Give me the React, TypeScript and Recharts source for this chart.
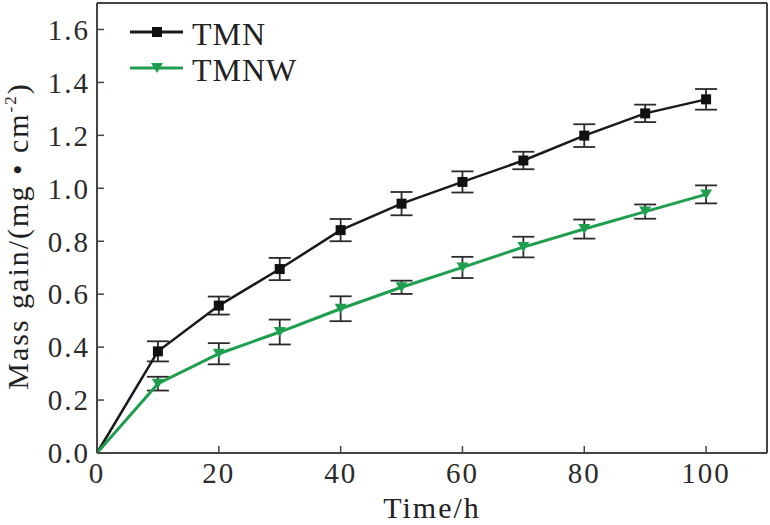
import React from "react";
import {
  LineChart,
  Line,
  XAxis,
  YAxis,
  ErrorBar,
  Legend,
} from "recharts";

const SERIF = "'Liberation Serif', 'Times New Roman', serif";
const INK = "#2b2b2b";
const GREEN = "#1f9e4f";

// Time (h) and mass gain (mg/cm^2)
const TIME = [0, 10, 20, 30, 40, 50, 60, 70, 80, 90, 100];
const TMN = [0, 0.384, 0.557, 0.695, 0.842, 0.942, 1.024, 1.105, 1.199, 1.283, 1.336];
const TMN_ERR = [null, 0.038, 0.034, 0.042, 0.042, 0.044, 0.04, 0.033, 0.043, 0.033, 0.039];
const TMNW = [0, 0.262, 0.375, 0.457, 0.545, 0.626, 0.701, 0.778, 0.846, 0.912, 0.977];
const TMNW_ERR = [null, 0.026, 0.04, 0.047, 0.047, 0.025, 0.04, 0.039, 0.036, 0.027, 0.034];

const X_TICKS = [0, 20, 40, 60, 80, 100];
const Y_TICKS = [0, 0.2, 0.4, 0.6, 0.8, 1.0, 1.2, 1.4, 1.6];

const data = TIME.map((t, i) => ({
  time: t,
  tmn: TMN[i],
  tmnErr: TMN_ERR[i],
  tmnw: TMNW[i],
  tmnwErr: TMNW_ERR[i],
}));

const tickStyle = { fontSize: 29, fill: INK, fontFamily: SERIF, letterSpacing: 2 };

function SquareDot(props: any) {
  const { cx, cy, payload, index } = props;
  if (payload.time === 0 || cx == null) return <g key={`s${index}`} />;
  return <rect key={`s${index}`} x={cx - 5} y={cy - 5} width={10} height={10} fill="#111" />;
}

function TriangleDot(props: any) {
  const { cx, cy, payload, index } = props;
  if (payload.time === 0 || cx == null) return <g key={`t${index}`} />;
  return (
    <path
      key={`t${index}`}
      d={`M${cx - 6},${cy - 5} L${cx + 6},${cy - 5} L${cx},${cy + 5} Z`}
      fill={GREEN}
    />
  );
}

function LegendMarker({ name, color }: { name: string; color: string }) {
  return (
    <svg width={56} height={20}>
      <line x1={2} y1={10} x2={55} y2={10} stroke={color} strokeWidth={3} />
      {name === "TMN" ? (
        <rect x={24} y={5} width={10} height={10} fill="#111" />
      ) : (
        <path d="M23,5 L35,5 L29,15 Z" fill={color} />
      )}
    </svg>
  );
}

function LegendContent(props: any) {
  const items = props.payload || [];
  return (
    <div style={{ fontFamily: SERIF, fontSize: 32, color: "#222", letterSpacing: 1 }}>
      {items.map((it: any) => (
        <div key={it.value} style={{ display: "flex", alignItems: "center", height: 36 }}>
          <LegendMarker name={it.value} color={it.color} />
          <span style={{ marginLeft: 8, lineHeight: "36px", position: "relative", top: 2 }}>
            {it.value}
          </span>
        </div>
      ))}
    </div>
  );
}

function YTitle() {
  return (
    <text
      x={28}
      y={236}
      transform="rotate(-90 28 236)"
      textAnchor="middle"
      fontFamily={SERIF}
      fontSize={30}
      letterSpacing={2}
      fill="#222"
    >
      Mass gain/(mg • cm
      <tspan fontSize={17} dy={-12}>-2</tspan>
      <tspan dy={12}>)</tspan>
    </text>
  );
}

export default function App() {
  return (
    <div style={{ width: 770, height: 525 }}>
      <style>{`body{margin:0}`}</style>
      <LineChart
        width={770}
        height={525}
        data={data}
        margin={{ top: 0, right: 0, bottom: 0, left: 0 }}
      >
        <XAxis
          dataKey="time"
          type="number"
          domain={[0, 110]}
          ticks={X_TICKS}
          height={72}
          axisLine={{ stroke: "#444", strokeWidth: 2 }}
          tickLine={{ stroke: "#444", strokeWidth: 1.5 }}
          tickSize={-7}
          tickMargin={16}
          tick={tickStyle}
          label={{
            value: "Time/h",
            position: "insideBottom",
            offset: 7,
            style: { fontSize: 30, fill: "#222", fontFamily: SERIF, letterSpacing: 2 },
          }}
        />
        <XAxis
          xAxisId="top"
          orientation="top"
          type="number"
          domain={[0, 110]}
          height={3}
          tick={false}
          tickLine={false}
          axisLine={{ stroke: "#444", strokeWidth: 2 }}
        />
        <YAxis
          type="number"
          domain={[0, 1.7]}
          ticks={Y_TICKS}
          width={97}
          axisLine={{ stroke: "#444", strokeWidth: 2 }}
          tickLine={{ stroke: "#444", strokeWidth: 1.5 }}
          tickSize={-7}
          tickMargin={14}
          tick={tickStyle}
          tickFormatter={(v: number) => v.toFixed(1)}
          label={<YTitle />}
        />
        <YAxis
          yAxisId="right"
          orientation="right"
          type="number"
          domain={[0, 1.7]}
          width={3}
          tick={false}
          tickLine={false}
          axisLine={{ stroke: "#444", strokeWidth: 2 }}
        />
        <Legend
          layout="vertical"
          align="center"
          verticalAlign="middle"
          wrapperStyle={{ left: 128, top: 14, width: "auto", height: "auto" }}
          content={<LegendContent />}
        />
        <Line
          name="TMN"
          dataKey="tmn"
          stroke="#1a1a1a"
          strokeWidth={2.5}
          dot={SquareDot}
          activeDot={false}
          isAnimationActive={false}
        >
          <ErrorBar dataKey="tmnErr" direction="y" width={11} stroke={INK} strokeWidth={1.8} />
        </Line>
        <Line
          name="TMNW"
          dataKey="tmnw"
          stroke={GREEN}
          strokeWidth={3}
          dot={TriangleDot}
          activeDot={false}
          isAnimationActive={false}
        >
          <ErrorBar dataKey="tmnwErr" direction="y" width={11} stroke={INK} strokeWidth={1.8} />
        </Line>
      </LineChart>
    </div>
  );
}
